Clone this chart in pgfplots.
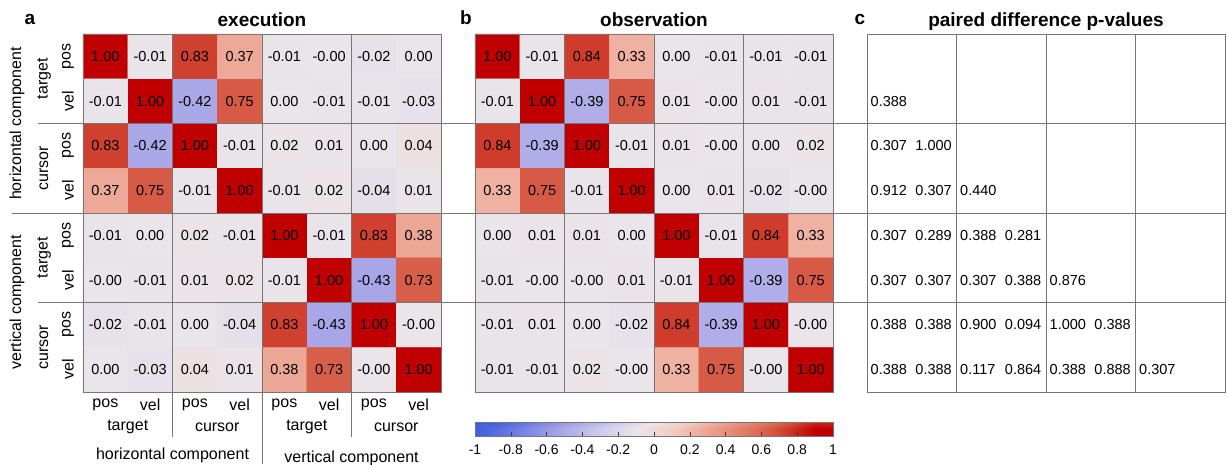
\documentclass[border=0pt]{standalone}
\usepackage{fontspec}
\setmainfont{Liberation Sans}
\usepackage{pgfplots}
\usepackage{pgfplotstable}
\pgfplotsset{compat=1.18}

\definecolor{sepgray}{RGB}{118,118,118}
\newcommand{\numfont}{\fontsize{14.5}{16}\selectfont}
\newcommand{\labfont}{\fontsize{16}{19}\selectfont}
\newcommand{\ttlfont}{\fontsize{19}{22}\selectfont\bfseries}
\newcommand{\cbfont}{\fontsize{14}{16}\selectfont}

\pgfplotsset{
  colormap={redblue}{
    rgb255(0pt)=(38,80,222); rgb255(30pt)=(105,120,228);
    rgb255(58pt)=(171,168,232); rgb255(80pt)=(205,202,236);
    rgb255(100pt)=(234,229,234); rgb255(120pt)=(242,205,195);
    rgb255(137pt)=(237,168,152); rgb255(160pt)=(225,125,100);
    rgb255(175pt)=(214,90,69); rgb255(183pt)=(208,64,46);
    rgb255(200pt)=(192,0,0)},
  /pgf/number format/assume math mode=true,
  panel/.style={
    scale only axis, width=358pt, height=358pt, anchor=north west,
    xmin=-0.5, xmax=7.5, ymin=-0.5, ymax=7.5, y dir=reverse,
    xtick=\empty, ytick=\empty, axis on top, clip=false,
    axis line style={draw=sepgray, line width=0.9pt},
    point meta min=-1, point meta max=1},
  cells/.style={matrix plot*, mesh/cols=8, point meta=\thisrow{c}},
}

% execution correlations (x = column, y = row)
\pgfplotstableread{
x y c
0 0 1.00
1 0 -0.01
2 0 0.83
3 0 0.37
4 0 -0.01
5 0 -0.00
6 0 -0.02
7 0 0.00
0 1 -0.01
1 1 1.00
2 1 -0.42
3 1 0.75
4 1 0.00
5 1 -0.01
6 1 -0.01
7 1 -0.03
0 2 0.83
1 2 -0.42
2 2 1.00
3 2 -0.01
4 2 0.02
5 2 0.01
6 2 0.00
7 2 0.04
0 3 0.37
1 3 0.75
2 3 -0.01
3 3 1.00
4 3 -0.01
5 3 0.02
6 3 -0.04
7 3 0.01
0 4 -0.01
1 4 0.00
2 4 0.02
3 4 -0.01
4 4 1.00
5 4 -0.01
6 4 0.83
7 4 0.38
0 5 -0.00
1 5 -0.01
2 5 0.01
3 5 0.02
4 5 -0.01
5 5 1.00
6 5 -0.43
7 5 0.73
0 6 -0.02
1 6 -0.01
2 6 0.00
3 6 -0.04
4 6 0.83
5 6 -0.43
6 6 1.00
7 6 -0.00
0 7 0.00
1 7 -0.03
2 7 0.04
3 7 0.01
4 7 0.38
5 7 0.73
6 7 -0.00
7 7 1.00
}\execdata

% observation correlations
\pgfplotstableread{
x y c
0 0 1.00
1 0 -0.01
2 0 0.84
3 0 0.33
4 0 0.00
5 0 -0.01
6 0 -0.01
7 0 -0.01
0 1 -0.01
1 1 1.00
2 1 -0.39
3 1 0.75
4 1 0.01
5 1 -0.00
6 1 0.01
7 1 -0.01
0 2 0.84
1 2 -0.39
2 2 1.00
3 2 -0.01
4 2 0.01
5 2 -0.00
6 2 0.00
7 2 0.02
0 3 0.33
1 3 0.75
2 3 -0.01
3 3 1.00
4 3 0.00
5 3 0.01
6 3 -0.02
7 3 -0.00
0 4 0.00
1 4 0.01
2 4 0.01
3 4 0.00
4 4 1.00
5 4 -0.01
6 4 0.84
7 4 0.33
0 5 -0.01
1 5 -0.00
2 5 -0.00
3 5 0.01
4 5 -0.01
5 5 1.00
6 5 -0.39
7 5 0.75
0 6 -0.01
1 6 0.01
2 6 0.00
3 6 -0.02
4 6 0.84
5 6 -0.39
6 6 1.00
7 6 -0.00
0 7 -0.01
1 7 -0.01
2 7 0.02
3 7 -0.00
4 7 0.33
5 7 0.75
6 7 -0.00
7 7 1.00
}\obsdata

\begin{document}
\begin{tikzpicture}
\path[use as bounding box] (0,0) rectangle (1227pt,464pt);

\begin{axis}[panel, at={(83pt,430pt)}]
  \addplot[cells] table[x=x, y=y] {\execdata};
\end{axis}

\begin{axis}[panel, at={(475pt,430pt)}]
  \addplot[cells] table[x=x, y=y] {\obsdata};
\end{axis}

% colour scale under panel b
\begin{axis}[scale only axis, width=358pt, height=14pt,
  at={(475pt,42pt)}, anchor=north west,
  xmin=-1, xmax=1, ymin=0, ymax=1,
  point meta min=-1, point meta max=1,
  xtick={-1,-0.8,-0.6,-0.4,-0.2,0,0.2,0.4,0.6,0.8,1}, ytick=\empty,
  xtick pos=left, tick align=inside, major tick length=4pt,
  tick style={draw=black!75, line width=0.6pt},
  xticklabel style={font=\cbfont, text=black, yshift=-5pt},
  axis line style={draw=sepgray, line width=0.8pt}, axis on top]
  \addplot[surf, shader=interp, point meta=x, mesh/cols=11] coordinates {
    (-1,0) (-0.8,0) (-0.6,0) (-0.4,0) (-0.2,0) (0,0) (0.2,0) (0.4,0) (0.6,0) (0.8,0) (1,0)
    (-1,1) (-0.8,1) (-0.6,1) (-0.4,1) (-0.2,1) (0,1) (0.2,1) (0.4,1) (0.6,1) (0.8,1) (1,1)};
\end{axis}

% panel c frame
\begin{axis}[panel, at={(867pt,430pt)}]
\end{axis}

\begin{scope}[x=1pt, y=-1pt, shift={(0pt,464pt)}]
  \tikzset{sep/.style={draw=sepgray, line width=0.9pt}}
  % cell values, panel a
  \foreach \r/\rowvals in {
      0/{1.00,-0.01,0.83,0.37,-0.01,-0.00,-0.02,0.00},
      1/{-0.01,1.00,-0.42,0.75,0.00,-0.01,-0.01,-0.03},
      2/{0.83,-0.42,1.00,-0.01,0.02,0.01,0.00,0.04},
      3/{0.37,0.75,-0.01,1.00,-0.01,0.02,-0.04,0.01},
      4/{-0.01,0.00,0.02,-0.01,1.00,-0.01,0.83,0.38},
      5/{-0.00,-0.01,0.01,0.02,-0.01,1.00,-0.43,0.73},
      6/{-0.02,-0.01,0.00,-0.04,0.83,-0.43,1.00,-0.00},
      7/{0.00,-0.03,0.04,0.01,0.38,0.73,-0.00,1.00}}
    \foreach \v [count=\c from 0] in \rowvals
      \node[font=\numfont, inner sep=0pt] at ({105.375+44.75*\c},{56.375+44.75*\r}) {\v};
  % cell values, panel b
  \foreach \r/\rowvals in {
      0/{1.00,-0.01,0.84,0.33,0.00,-0.01,-0.01,-0.01},
      1/{-0.01,1.00,-0.39,0.75,0.01,-0.00,0.01,-0.01},
      2/{0.84,-0.39,1.00,-0.01,0.01,-0.00,0.00,0.02},
      3/{0.33,0.75,-0.01,1.00,0.00,0.01,-0.02,-0.00},
      4/{0.00,0.01,0.01,0.00,1.00,-0.01,0.84,0.33},
      5/{-0.01,-0.00,-0.00,0.01,-0.01,1.00,-0.39,0.75},
      6/{-0.01,0.01,0.00,-0.02,0.84,-0.39,1.00,-0.00},
      7/{-0.01,-0.01,0.02,-0.00,0.33,0.75,-0.00,1.00}}
    \foreach \v [count=\c from 0] in \rowvals
      \node[font=\numfont, inner sep=0pt] at ({497.375+44.75*\c},{56.375+44.75*\r}) {\v};
  % paired difference p-values, panel c
  \foreach \r/\rowvals in {
      1/{0.388},
      2/{0.307,1.000},
      3/{0.912,0.307,0.440},
      4/{0.307,0.289,0.388,0.281},
      5/{0.307,0.307,0.307,0.388,0.876},
      6/{0.388,0.388,0.900,0.094,1.000,0.388},
      7/{0.388,0.388,0.117,0.864,0.388,0.888,0.307}}
    \foreach \v [count=\c from 0] in \rowvals
      \node[font=\numfont, inner sep=0pt, anchor=west] at ({870.5+44.75*\c},{56.375+44.75*\r}) {\v};

  % block separators across the figure
  \draw[sep] (38,123.5) -- (1225,123.5);
  \draw[sep] (12,213) -- (1225,213);
  \draw[sep] (38,302.5) -- (1225,302.5);
  \draw[sep] (172.5,34) -- (172.5,437);
  \draw[sep] (262,34) -- (262,464);
  \draw[sep] (351.5,34) -- (351.5,437);
  \foreach \xx in {564.5,654,743.5,956.5,1046,1135.5}
    \draw[sep] (\xx,34) -- (\xx,392);

  % row and column labels
  \foreach \i/\t in {0/pos,1/vel,2/pos,3/vel,4/pos,5/vel,6/pos,7/vel} {
    \node[rotate=90, font=\labfont] at (68,{56.375+44.75*\i}) {\t};
    \node[font=\labfont] at ({105.375+44.75*\i},405) {\t};
  }
  \foreach \i/\t in {0/target,1/cursor,2/target,3/cursor} {
    \node[rotate=90, font=\labfont] at (44,{78.75+89.5*\i}) {\t};
    \node[font=\labfont] at ({127.75+89.5*\i},427) {\t};
  }
  \node[rotate=90, font=\labfont] at (17,123.5) {horizontal component};
  \node[rotate=90, font=\labfont] at (17,302.5) {vertical component};
  \node[font=\labfont] at (172.5,455) {horizontal component};
  \node[font=\labfont] at (351.5,458) {vertical component};

  % titles
  \node[font=\ttlfont, anchor=base] at (30,25) {a};
  \node[font=\ttlfont, anchor=base] at (262,27) {execution};
  \node[font=\ttlfont, anchor=base] at (466,25) {b};
  \node[font=\ttlfont, anchor=base] at (654,27) {observation};
  \node[font=\ttlfont, anchor=base] at (860,25) {c};
  \node[font=\ttlfont, anchor=base] at (1046,27) {paired difference p-values};
\end{scope}
\end{tikzpicture}
\end{document}
